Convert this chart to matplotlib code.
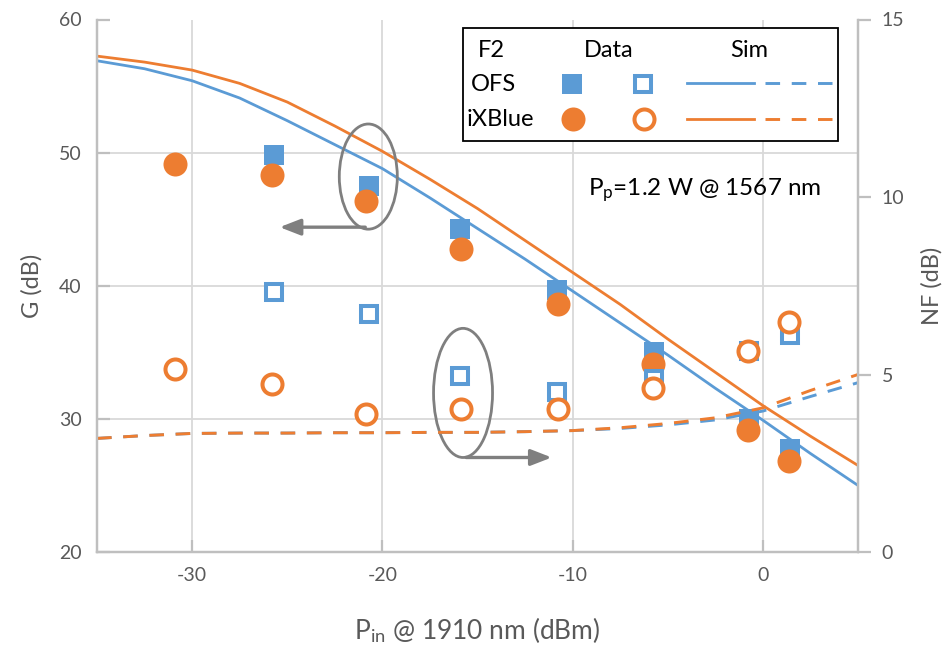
import matplotlib
matplotlib.use("Agg")
import matplotlib.pyplot as plt
from matplotlib.patches import Ellipse, Rectangle

plt.rcParams.update({
    "font.family": ["Lato", "DejaVu Sans"],
    "mathtext.fontset": "custom",
    "mathtext.rm": "Lato",
    "mathtext.it": "Lato:italic",
    "axes.unicode_minus": False,
    "font.size": 14,
})

BLUE = "#5B9BD5"
ORANGE = "#ED7D31"
AXIS = "#BFBFBF"
GRID = "#D9D9D9"
TXT = "#595959"
GREY = "#7F7F7F"

# measured data
ofs_pin = [-25.7, -20.7, -15.9, -10.8, -5.7, -0.75, 1.4]
ofs_gain = [49.8, 47.5, 44.3, 39.7, 35.0, 30.0, 27.7]
ofs_nf = [7.32, 6.70, 4.97, 4.52, 4.88, 5.66, 6.12]

ixb_pin = [-30.9, -25.8, -20.85, -15.85, -10.75, -5.8, -0.8, 1.35]
ixb_gain = [49.15, 48.3, 46.35, 42.75, 38.6, 34.1, 29.2, 26.8]
ixb_nf = [5.15, 4.72, 3.88, 4.02, 4.03, 4.63, 5.66, 6.49]

# simulation
sim_pin = [-35, -32.5, -30, -27.5, -25, -22.5, -20, -17.5, -15, -12.5,
           -10, -7.5, -5, -2.5, 0, 2.5, 5]
ofs_sim_gain = [56.9, 56.3, 55.4, 54.1, 52.4, 50.6, 48.8, 46.6, 44.3, 42.0,
                39.6, 37.2, 34.8, 32.3, 29.9, 27.4, 25.0]
ixb_sim_gain = [57.25, 56.8, 56.2, 55.2, 53.8, 52.0, 50.1, 48.0, 45.8, 43.4,
                41.0, 38.6, 36.0, 33.5, 31.0, 28.7, 26.5]
ofs_sim_nf = [3.2, 3.28, 3.34, 3.35, 3.35, 3.36, 3.36, 3.37, 3.37, 3.39,
              3.42, 3.48, 3.58, 3.72, 3.97, 4.38, 4.77]
ixb_sim_nf = [3.2, 3.28, 3.34, 3.35, 3.35, 3.36, 3.36, 3.37, 3.37, 3.39,
              3.42, 3.5, 3.62, 3.78, 4.06, 4.55, 5.0]

fig = plt.figure(figsize=(9.45, 6.49), dpi=100)
ax = fig.add_axes([97 / 945, 1 - 552 / 649, 761 / 945, 532.5 / 649])
ax2 = ax.twinx()

# gain (left axis)
ax.plot(sim_pin, ofs_sim_gain, color=BLUE, lw=2.0)
ax.plot(sim_pin, ixb_sim_gain, color=ORANGE, lw=2.0)
ax.plot(ofs_pin, ofs_gain, "s", color=BLUE, ms=15, mew=0)
ax.plot(ixb_pin, ixb_gain, "o", color=ORANGE, ms=17.3, mew=0)

# noise figure (right axis)
ax2.plot(sim_pin, ofs_sim_nf, color=BLUE, lw=2.1, ls=(0, (5, 4)), dash_capstyle="butt")
ax2.plot(sim_pin, ixb_sim_nf, color=ORANGE, lw=2.1, ls=(0, (5, 4)), dash_capstyle="butt")
ax2.plot(ofs_pin, ofs_nf, "s", mfc="white", mec=BLUE, ms=12.2, mew=2.9)
ax2.plot(ixb_pin, ixb_nf, "o", mfc="white", mec=ORANGE, ms=14.4, mew=2.9)

ax.set_xlim(-35, 5)
ax.set_ylim(20, 60)
ax2.set_ylim(0, 15)
ax.set_xticks([-30, -20, -10, 0])
ax.set_yticks([20, 30, 40, 50, 60])
ax2.set_yticks([0, 5, 10, 15])

ax.grid(True, color=GRID, lw=1.3)
ax.set_axisbelow(True)
ax.get_ygridlines()[-1].set_visible(False)

for a in (ax, ax2):
    a.spines["top"].set_visible(False)
    for s in ("left", "right", "bottom"):
        a.spines[s].set_color(AXIS)
        a.spines[s].set_linewidth(1.6)
ax.tick_params(axis="both", direction="in", length=9, width=1.6, color=AXIS,
               labelcolor=TXT, labelsize=14, pad=11)
ax2.tick_params(axis="y", direction="out", length=9, width=1.6, color=AXIS,
                labelcolor=TXT, labelsize=14, pad=8)

ax.set_ylabel("G (dB)", color=TXT, fontsize=17, labelpad=12)
ax2.set_ylabel("NF (dB)", color=TXT, fontsize=17, labelpad=12)
ax.set_xlabel(r"P$_{\mathrm{in}}$ @ 1910 nm (dBm)", color=TXT, fontsize=19, labelpad=22)

# annotations: ellipses with arrows pointing to the relevant axis
ax.add_patch(Ellipse((-20.74, 48.2), 3.05, 7.9, fill=False, ec=GREY, lw=2.0, zorder=5))
ax.annotate("", xy=(-25.4, 44.4), xytext=(-20.9, 44.4),
            arrowprops=dict(arrowstyle="-|>,head_length=0.9,head_width=0.35",
                            color=GREY, lw=2.4, shrinkA=0, shrinkB=0), zorder=5)
ax.add_patch(Ellipse((-15.76, 31.95), 3.1, 9.7, fill=False, ec=GREY, lw=2.0, zorder=5))
ax.annotate("", xy=(-11.1, 27.1), xytext=(-15.6, 27.1),
            arrowprops=dict(arrowstyle="-|>,head_length=0.9,head_width=0.35",
                            color=GREY, lw=2.4, shrinkA=0, shrinkB=0), zorder=5)

ax2.text(-9.2, 10.2, r"P$_{\mathrm{p}}$=1.2 W @ 1567 nm", fontsize=17.5,
         ha="left", va="center", color="black")

# table-style legend
tr = ax2.transAxes
ax2.add_patch(Rectangle((0.481, 0.772), 0.493, 0.212, transform=tr, fill=True,
                        fc="white", ec="black", lw=1.3, zorder=6))
for s, x, y in [("F2", 0.5187, 0.9427), ("Data", 0.6719, 0.9427), ("Sim", 0.8572, 0.9427),
                ("OFS", 0.5208, 0.877), ("iXBlue", 0.5296, 0.8113)]:
    ax2.text(x, y, s, transform=tr, ha="center", va="center", fontsize=17, zorder=7)
ax2.plot([0.6242], [0.8789], "s", color=BLUE, ms=15, mew=0, transform=tr, zorder=7)
ax2.plot([0.7179], [0.8789], "s", mfc="white", mec=BLUE, ms=12.2, mew=2.9, transform=tr, zorder=7)
ax2.plot([0.6251], [0.8131], "o", color=ORANGE, ms=17.3, mew=0, transform=tr, zorder=7)
ax2.plot([0.7192], [0.8131], "o", mfc="white", mec=ORANGE, ms=14.4, mew=2.9, transform=tr, zorder=7)
ax2.plot([0.7749, 0.8633], [0.8802, 0.8802], color=BLUE, lw=2.0, transform=tr, zorder=7)
ax2.plot([0.8778, 0.9654], [0.8802, 0.8802], color=BLUE, lw=2.1, ls=(0, (5, 4)),
         dash_capstyle="butt", transform=tr, zorder=7)
ax2.plot([0.7749, 0.8633], [0.8126, 0.8126], color=ORANGE, lw=2.0, transform=tr, zorder=7)
ax2.plot([0.8778, 0.9654], [0.8126, 0.8126], color=ORANGE, lw=2.1, ls=(0, (5, 4)),
         dash_capstyle="butt", transform=tr, zorder=7)

fig.savefig("out.png", dpi=100, facecolor="white")
